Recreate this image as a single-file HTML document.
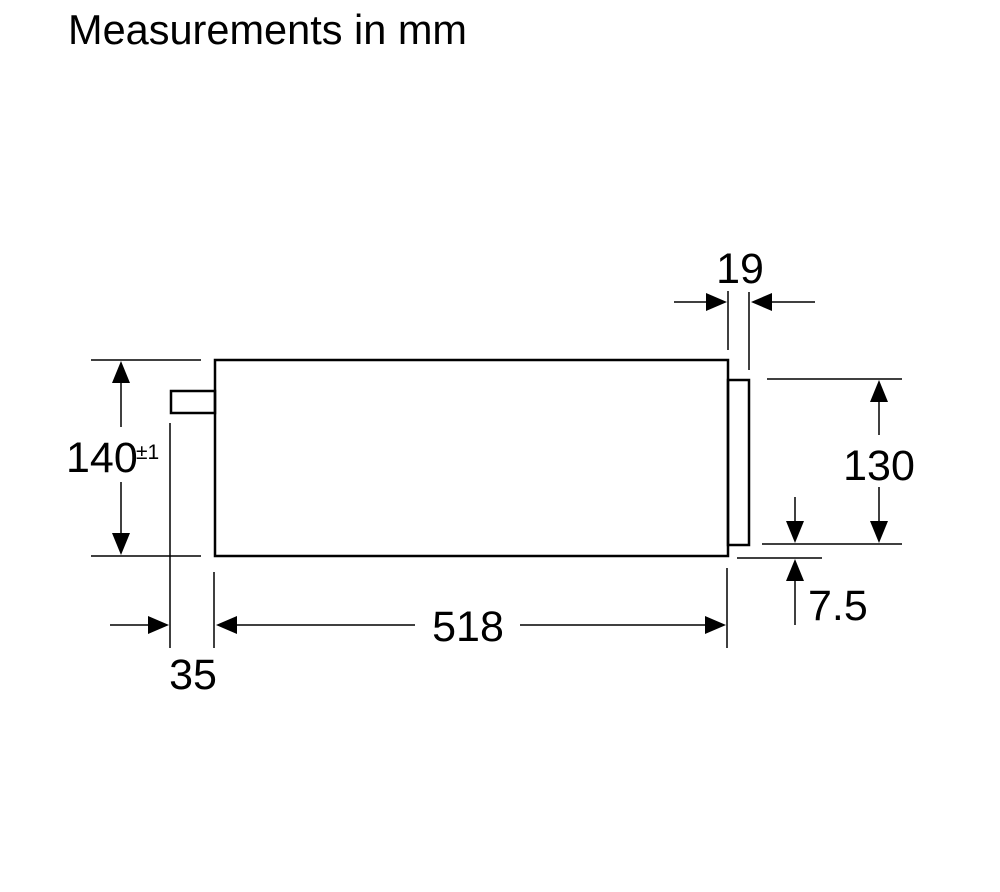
<!DOCTYPE html>
<html><head><style>html,body{margin:0;padding:0;background:#fff}</style></head><body>
<svg width="1000" height="887" xmlns="http://www.w3.org/2000/svg" font-family="Liberation Sans, sans-serif">
<text x="68" y="44" font-size="41.5" fill="#000">Measurements in mm</text>
<g stroke="#000" fill="none">
<rect x="215" y="360" width="513" height="196" stroke-width="2.5"/>
<rect x="171" y="391" width="44" height="22" stroke-width="2.5"/>
<rect x="728" y="380" width="21" height="165" stroke-width="2.5"/>
<g stroke-width="1.5">
<line x1="91" y1="360" x2="201" y2="360"/>
<line x1="91" y1="556" x2="201" y2="556"/>
<line x1="121" y1="380" x2="121" y2="427"/>
<line x1="121" y1="482" x2="121" y2="535"/>
<line x1="170" y1="423" x2="170" y2="648"/>
<line x1="214" y1="572" x2="214" y2="648"/>
<line x1="727" y1="568" x2="727" y2="648"/>
<line x1="110" y1="625" x2="150" y2="625"/>
<line x1="235" y1="625" x2="415" y2="625"/>
<line x1="520" y1="625" x2="707" y2="625"/>
<line x1="728" y1="291" x2="728" y2="350"/>
<line x1="749" y1="292" x2="749" y2="370"/>
<line x1="674" y1="302" x2="707" y2="302"/>
<line x1="772" y1="302" x2="815" y2="302"/>
<line x1="767" y1="379" x2="902" y2="379"/>
<line x1="762" y1="544" x2="902" y2="544"/>
<line x1="879" y1="400" x2="879" y2="435"/>
<line x1="879" y1="487" x2="879" y2="524"/>
<line x1="737" y1="558" x2="822" y2="558"/>
<line x1="795" y1="497" x2="795" y2="524"/>
<line x1="795" y1="578" x2="795" y2="625"/>
</g>
</g>
<g fill="#000">
<polygon points="121,361 112,383 130,383"/>
<polygon points="121,555 112,533 130,533"/>
<polygon points="169,625 148,616 148,634"/>
<polygon points="216,625 237,616 237,634"/>
<polygon points="726,625 705,616 705,634"/>
<polygon points="727,302 706,293 706,311"/>
<polygon points="751,302 772,293 772,311"/>
<polygon points="879,380 870,402 888,402"/>
<polygon points="879,543 870,521 888,521"/>
<polygon points="795,543 786,521 804,521"/>
<polygon points="795,559 786,581 804,581"/>
</g>
<g font-size="43" fill="#000">
<text x="66" y="472">140</text>
<text x="136" y="459" font-size="21">±1</text>
<text x="468" y="641" text-anchor="middle">518</text>
<text x="193" y="689" text-anchor="middle">35</text>
<text x="740" y="283" text-anchor="middle">19</text>
<text x="879" y="480" text-anchor="middle">130</text>
<text x="808" y="620">7.5</text>
</g>
</svg>
</body></html>
